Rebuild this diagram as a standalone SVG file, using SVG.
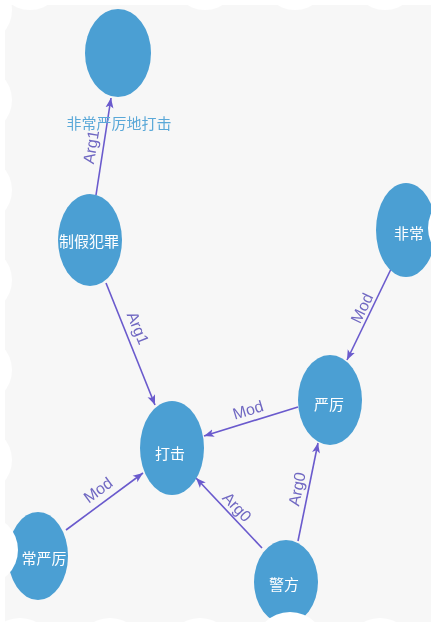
<svg xmlns="http://www.w3.org/2000/svg" width="436" height="627" viewBox="0 0 436 627">
<style>
.node ellipse{fill:#4b9fd3}
.node text{fill:#ffffff;font-family:"Noto Sans CJK SC","Noto Sans",sans-serif;font-size:15px;text-anchor:middle;dominant-baseline:central}
.edge{stroke:#6a5acd;stroke-width:1.6;fill:none;marker-end:url(#arr)}
.lbl{fill:#7068c2;font-family:"Liberation Sans",Arial,sans-serif;font-size:16px;text-anchor:middle;dominant-baseline:central}
.toplbl{fill:#5aa8d8;font-family:"Noto Sans CJK SC","Noto Sans",sans-serif;font-size:15px;text-anchor:middle;dominant-baseline:central}
</style>
<defs>
<marker id="arr" markerUnits="userSpaceOnUse" markerWidth="11" markerHeight="9" refX="10" refY="4.5" orient="auto">
<path d="M0,0.5 L10,4.5 L0,8.5 L2.5,4.5 z" fill="#6a5acd"/>
</marker>
<mask id="wave" maskUnits="userSpaceOnUse" x="0" y="0" width="436" height="627">
<rect x="5" y="5" width="426" height="617" fill="#fff"/>
<g fill="#000">
<circle cx="-17" cy="550" r="35"/><circle cx="-22" cy="460" r="34"/><circle cx="-22" cy="370" r="34"/><circle cx="-22" cy="280" r="34"/><circle cx="-22" cy="190" r="34"/><circle cx="-22" cy="100" r="34"/><circle cx="-22" cy="10" r="34"/>
<circle cx="463" cy="228" r="35"/><circle cx="468" cy="138" r="34"/><circle cx="468" cy="48" r="34"/><circle cx="468" cy="318" r="34"/><circle cx="468" cy="408" r="34"/><circle cx="468" cy="498" r="34"/><circle cx="468" cy="588" r="34"/>
<circle cx="290" cy="648" r="36"/><circle cx="200" cy="652" r="34"/><circle cx="110" cy="652" r="34"/><circle cx="20" cy="652" r="34"/><circle cx="380" cy="652" r="34"/>
<circle cx="30" cy="-24" r="34"/><circle cx="205" cy="-24" r="34"/><circle cx="295" cy="-24" r="34"/><circle cx="385" cy="-24" r="34"/>
</g>
</mask>
</defs>
<rect width="436" height="627" fill="#ffffff"/>
<g mask="url(#wave)">
<rect x="0" y="0" width="436" height="627" fill="#f7f7f7"/>
<g id="edges">
<line class="edge" x1="96" y1="195" x2="111" y2="98"/>
<line class="edge" x1="106" y1="283" x2="155" y2="405"/>
<line class="edge" x1="392" y1="267" x2="347" y2="360"/>
<line class="edge" x1="298" y1="407" x2="204" y2="436"/>
<line class="edge" x1="66" y1="530" x2="143" y2="473"/>
<line class="edge" x1="262" y1="548" x2="196" y2="478"/>
<line class="edge" x1="298" y1="541" x2="318" y2="443"/>
<text class="lbl" transform="translate(91,147) rotate(-80.6)">Arg1</text>
<text class="lbl" transform="translate(138,328) rotate(68)">Arg1</text>
<text class="lbl" transform="translate(362,308) rotate(-64)">Mod</text>
<text class="lbl" transform="translate(248,410) rotate(-17)">Mod</text>
<text class="lbl" transform="translate(98,490) rotate(-36.5)">Mod</text>
<text class="lbl" transform="translate(237,507) rotate(46.7)">Arg0</text>
<text class="lbl" transform="translate(297,489) rotate(-78.5)">Arg0</text>
</g>
<g id="n-top" class="node"><ellipse cx="118" cy="53" rx="33" ry="44"/></g>
<text class="toplbl" x="119" y="122">非常严厉地打击</text>
<g id="n-zhijia" class="node"><ellipse cx="90" cy="240" rx="32" ry="46"/><text x="89" y="240">制假犯罪</text></g>
<g id="n-feichang" class="node"><ellipse cx="406" cy="230" rx="30" ry="47"/><text x="409" y="232">非常</text></g>
<g id="n-yanli" class="node"><ellipse cx="330" cy="400" rx="32" ry="45"/><text x="329" y="403">严厉</text></g>
<g id="n-daji" class="node"><ellipse cx="172" cy="448" rx="32" ry="47"/><text x="170" y="452">打击</text></g>
<g id="n-feichangyanli" class="node"><ellipse cx="38" cy="556" rx="30" ry="44"/><text x="44" y="557">常严厉</text></g>
<g id="n-jingfang" class="node"><ellipse cx="286" cy="582" rx="32" ry="42"/><text x="284" y="583">警方</text></g>
</g>
</svg>
